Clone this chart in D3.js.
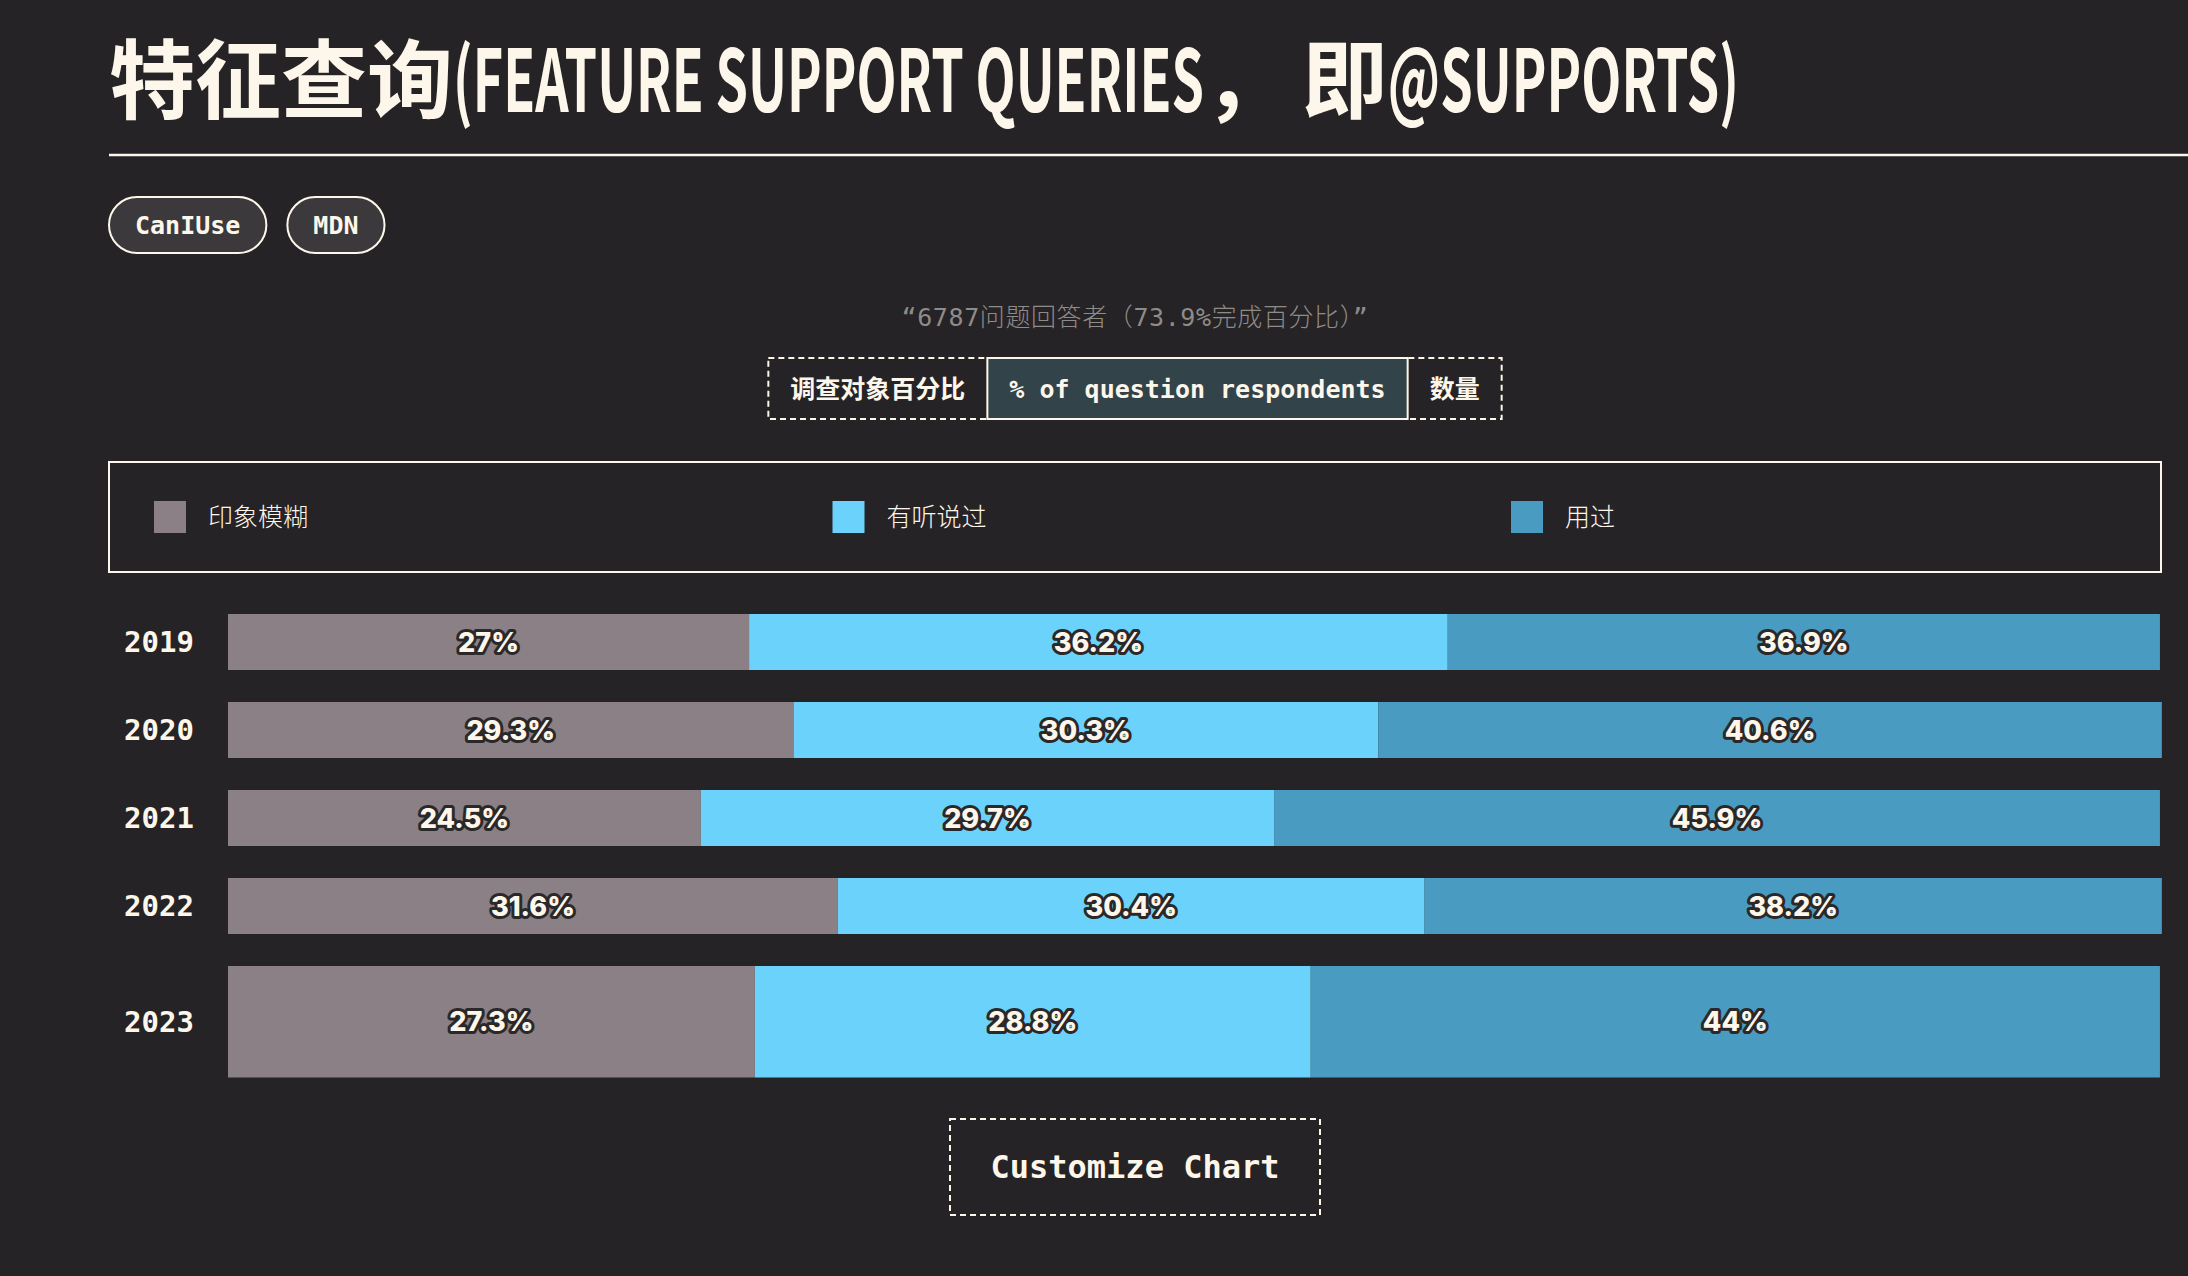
<!DOCTYPE html>
<html><head><meta charset="utf-8">
<script src="https://cdn.jsdelivr.net/npm/d3@7"></script>
<style>
html,body{margin:0;padding:0;background:#252325;}
svg{display:block;}
</style></head><body>
<svg id="chart" width="2188" height="1276"></svg>
<script>
// ---------- data ----------
const years = ["2019", "2020", "2021", "2022", "2023"];
const seriesNames = ["印象模糊", "有听说过", "用过"];
const vague = [27, 29.3, 24.5, 31.6, 27.3];
const heard = [36.2, 30.3, 29.7, 30.4, 28.8];
const used = [36.9, 40.6, 45.9, 38.2, 44];
const seriesColors = ["#8a8085", "#6bd3fb", "#4a9bc1"];
const titleText = "特征查询(FEATURE SUPPORT QUERIES， 即@SUPPORTS)";
const linkLabels = ["CanIUse", "MDN"];
const subtitleText = "“6787问题回答者（73.9%完成百分比）”";
const toggleLabels = ["调查对象百分比", "% of question respondents", "数量"];
const activeToggle = 1;
const buttonLabel = "Customize Chart";
const xDomain = [0, 100];

// ---------- setup ----------
const W = 2188, H = 1276;
const cream = "#fdf6ea";
const bg = "#252325";
const mono = "'DejaVu Sans Mono','Noto Sans CJK SC',monospace";
const cjk = "'Noto Sans CJK SC','Noto Sans',sans-serif";
const svg = d3.select("#chart");
svg.append("rect").attr("width", W).attr("height", H).attr("fill", bg);

const left = 109, right = 2161, centerX = (left + right) / 2;

// ---------- title (CJK runs at natural width, Latin runs condensed) ----------
const titleWidth = 1630, titleSize = 86, titleBase = 112;
const runs = titleText.match(/[\u3000-\u9fff\uff00-\uffef]+|[^\u3000-\u9fff\uff00-\uffef]+/g)
  .map(s => ({ s, latin: !/[\u3000-\u9fff\uff00-\uffef]/.test(s) }));
const tgTitle = svg.append("g");
runs.forEach(r => {
  r.el = tgTitle.append("text").attr("y", 0)
    .attr("font-family", cjk).attr("font-weight", 700).attr("font-size", titleSize)
    .attr("fill", cream).attr("xml:space", "preserve").style("white-space", "pre").text(r.s);
  r.w = r.el.node().getComputedTextLength();
});
const cjkW = d3.sum(runs.filter(r => !r.latin), r => r.w);
const latW = d3.sum(runs.filter(r => r.latin), r => r.w);
const k = (titleWidth - cjkW) / latW;
let cx = left;
runs.forEach(r => {
  const sx = r.latin ? k : 1;
  r.el.attr("transform", `translate(${cx},${titleBase}) scale(${sx},1)`);
  cx += r.w * sx;
});
svg.append("line").attr("x1", left).attr("x2", W).attr("y1", 155).attr("y2", 155)
  .attr("stroke", cream).attr("stroke-width", 2.5);

// ---------- link pills ----------
let px = left;
linkLabels.forEach(lbl => {
  const g = svg.append("g");
  const t = g.append("text").attr("y", 225).attr("dy", "0.35em")
    .attr("font-family", mono).attr("font-weight", 700).attr("font-size", 25)
    .attr("fill", cream).attr("text-anchor", "middle").text(lbl);
  const tw = t.node().getComputedTextLength();
  const w = tw + 52;
  g.insert("rect", "text").attr("x", px).attr("y", 197).attr("width", w).attr("height", 56)
    .attr("rx", 28).attr("fill", "#3b393b").attr("stroke", cream).attr("stroke-width", 2);
  t.attr("x", px + w / 2);
  px += w + 21;
});

// ---------- subtitle ----------
svg.append("text").attr("x", centerX).attr("y", 317).attr("dy", "0.35em")
  .attr("text-anchor", "middle").attr("font-family", mono).attr("font-weight", 300)
  .attr("font-size", 25).attr("letter-spacing", 0.6).attr("fill", "#8f8b88").text(subtitleText);

// ---------- toggle ----------
const tg = svg.append("g");
const tTexts = toggleLabels.map(l => tg.append("text").attr("y", 389).attr("dy", "0.35em")
  .attr("text-anchor", "middle").attr("font-family", mono).attr("font-weight", 700)
  .attr("font-size", 25).attr("fill", cream).text(l));
const tWidths = tTexts.map(t => t.node().getComputedTextLength() + 44);
const tTotal = d3.sum(tWidths);
let tx = centerX - tTotal / 2;
const tTop = 358, tH = 61;
const segX = [];
tWidths.forEach((w, i) => { segX.push(tx); tx += w; });
tg.insert("rect", "text").attr("x", segX[0]).attr("y", tTop).attr("width", tTotal).attr("height", tH)
  .attr("fill", "none").attr("stroke", cream).attr("stroke-width", 2).attr("stroke-dasharray", "6 4");
tTexts.forEach((t, i) => {
  t.attr("x", segX[i] + tWidths[i] / 2);
  if (i === activeToggle) {
    tg.insert("rect", "text").attr("x", segX[i]).attr("y", tTop).attr("width", tWidths[i]).attr("height", tH)
      .attr("fill", "#33434a").attr("stroke", cream).attr("stroke-width", 2);
  }
});

// ---------- legend ----------
svg.append("rect").attr("x", left).attr("y", 462).attr("width", right - left).attr("height", 110)
  .attr("fill", "none").attr("stroke", cream).attr("stroke-width", 2);
const legendX = d3.scaleBand().domain(seriesNames).range([154, 154 + 3 * 678.5]);
const color = d3.scaleOrdinal().domain(seriesNames).range(seriesColors);
const lg = svg.selectAll("g.leg").data(seriesNames).join("g").attr("class", "leg")
  .attr("transform", d => `translate(${legendX(d)},501)`);
lg.append("rect").attr("width", 32).attr("height", 32).attr("fill", d => color(d));
lg.append("text").attr("x", 54).attr("y", 16).attr("dy", "0.35em")
  .attr("font-family", cjk).attr("font-weight", 300).attr("font-size", 25)
  .attr("fill", cream).text(d => d);

// ---------- bars ----------
const table = years.map((y, i) => ({ year: y, [seriesNames[0]]: vague[i], [seriesNames[1]]: heard[i], [seriesNames[2]]: used[i] }));
const stack = d3.stack().keys(seriesNames)(table);
const x = d3.scaleLinear().domain(xDomain).range([228, 2158]);
const unit = 56, gap = 32, barTop = 614;
const lastIdx = years.length - 1;
const yPos = d3.scaleLinear().domain([0, 1]).range([barTop, barTop + unit + gap]);
const rowH = i => (i === lastIdx ? unit * 2 - 0.5 : unit);

const layers = svg.selectAll("g.layer").data(stack).join("g").attr("class", "layer")
  .attr("fill", d => color(d.key));
layers.selectAll("rect").data(d => d).join("rect")
  .attr("x", d => x(d[0])).attr("width", d => x(d[1]) - x(d[0]))
  .attr("y", (d, i) => yPos(i)).attr("height", (d, i) => rowH(i));

const labels = svg.append("g");
stack.forEach(layer => {
  layer.forEach((d, i) => {
    labels.append("text")
      .attr("x", (x(d[0]) + x(d[1])) / 2).attr("y", yPos(i) + rowH(i) / 2).attr("dy", "0.36em")
      .attr("text-anchor", "middle").attr("font-family", "Inter, Lato, sans-serif")
      .attr("font-weight", 800).attr("font-size", 27)
      .attr("fill", cream).attr("stroke", "#2a2829").attr("stroke-width", 6)
      .attr("stroke-linejoin", "round").attr("paint-order", "stroke")
      .text(d3.format("~")(d.data[layer.key]) + "%");
  });
});

svg.selectAll("text.year").data(years).join("text").attr("class", "year")
  .attr("x", 124).attr("y", (d, i) => yPos(i) + rowH(i) / 2).attr("dy", "0.36em")
  .attr("font-family", mono).attr("font-weight", 700).attr("font-size", 29)
  .attr("fill", cream).text(d => d);

// ---------- button ----------
const bw = 370, bh = 96;
svg.append("rect").attr("x", centerX - bw / 2).attr("y", 1119).attr("width", bw).attr("height", bh)
  .attr("fill", "none").attr("stroke", cream).attr("stroke-width", 2).attr("stroke-dasharray", "6 4");
svg.append("text").attr("x", centerX).attr("y", 1167).attr("dy", "0.35em").attr("text-anchor", "middle")
  .attr("font-family", mono).attr("font-weight", 700).attr("font-size", 32)
  .attr("fill", cream).text(buttonLabel);
</script>
</body></html>
